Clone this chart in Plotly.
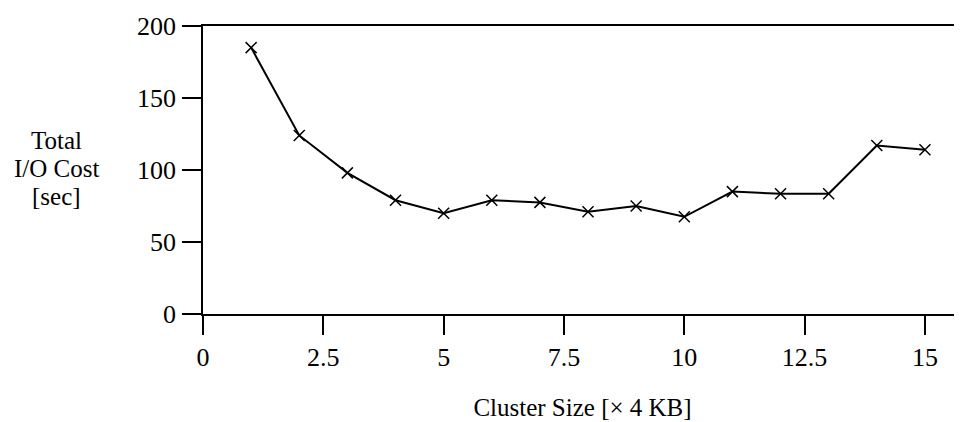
import plotly.graph_objects as go

cluster_size = [1, 2, 3, 4, 5, 6, 7, 8, 9, 10, 11, 12, 13, 14, 15]
io_cost = [185, 124, 98, 79, 70, 79, 77.5, 71, 75, 67.5, 85, 83.5, 83.5, 117, 114]
x_ticks = [0, 2.5, 5, 7.5, 10, 12.5, 15]
x_tick_labels = ["0", "2.5", "5", "7.5", "10", "12.5", "15"]
y_ticks = [0, 50, 100, 150, 200]
y_title_lines = ["Total", "I/O Cost", "[sec]"]

FONT = "Liberation Serif, Times New Roman, serif"

fig = go.Figure()
fig.add_trace(go.Scatter(
    x=cluster_size, y=io_cost, mode="lines+markers",
    line=dict(color="black", width=2),
    marker=dict(symbol="x-thin", size=11, color="black",
                line=dict(color="black", width=1.5)),
    showlegend=False,
))

fig.update_layout(
    width=954, height=414,
    margin=dict(l=195, r=0, t=18, b=108),
    paper_bgcolor="white", plot_bgcolor="white",
    font=dict(family=FONT, size=26, color="black"),
    xaxis=dict(
        range=[0, 15.77], tickvals=x_ticks, ticktext=x_tick_labels,
        showgrid=False, zeroline=False, showline=True, mirror=True,
        linecolor="black", linewidth=1.8,
        ticks="outside", ticklen=19, tickwidth=1.8, tickcolor="black",
        ticklabelstandoff=0,
        tickfont=dict(family=FONT, size=26, color="black"),
        title=dict(text="Cluster Size [× 4 KB]", standoff=27,
                   font=dict(family=FONT, size=25, color="black")),
    ),
    yaxis=dict(
        range=[0, 200], tickvals=y_ticks,
        showgrid=False, zeroline=False, showline=True,
        linecolor="black", linewidth=1.8,
        ticks="outside", ticklen=19, tickwidth=1.8, tickcolor="black",
        ticklabelstandoff=1,
        tickfont=dict(family=FONT, size=26, color="black"),
    ),
)

# y-axis title drawn as three stacked lines (paper coords: plot spans 26..314 px)
for i, line in enumerate(y_title_lines):
    y_px = 140 + 28 * i
    fig.add_annotation(
        text=line, xref="paper", yref="paper",
        x=-0.1924, y=(314 - y_px) / 288.0,
        xanchor="center", yanchor="middle", showarrow=False,
        font=dict(family=FONT, size=25, color="black"),
    )

fig.write_html("out.html")
